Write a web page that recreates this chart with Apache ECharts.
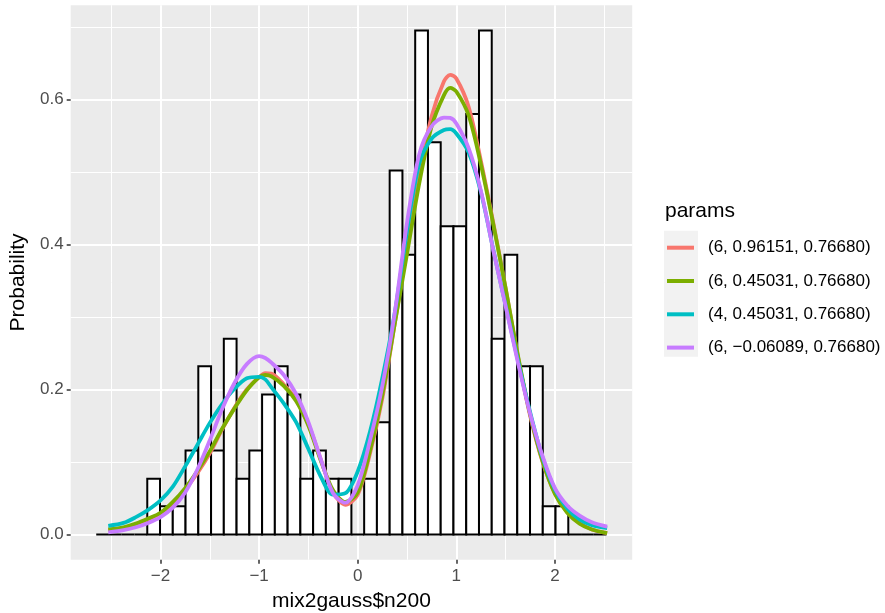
<!DOCTYPE html>
<html><head><meta charset="utf-8">
<script src="https://cdn.jsdelivr.net/npm/echarts@6/dist/echarts.min.js"></script>
<style>html,body{margin:0;padding:0;background:#fff}#chart{width:885px;height:613px}</style>
</head><body><div id="chart"></div>
<script>
// ---- data ----
const binStart = -2.652;
const binWidth = 0.1294;
const binDensity = [0,0,0,0,0.077,0.039,0.039,0.116,0.232,0.116,0.270,0.077,0.116,0.193,0.232,0.193,0.077,0.116,0.077,0.077,0,0.077,0.155,0.502,0.386,0.695,0.541,0.425,0.425,0.580,0.695,0.270,0.386,0.232,0.232,0.039,0.039,0,0,0];

const densX = [-2.53,-2.375,-2.25,-2.125,-2.0,-1.875,-1.75,-1.625,-1.5,-1.375,-1.25,-1.125,-1.0,-0.9375,-0.875,-0.75,-0.625,-0.5,-0.375,-0.25,-0.125,0,0.125,0.25,0.375,0.5,0.625,0.75,0.875,0.9375,1.0,1.125,1.25,1.375,1.5,1.625,1.75,1.875,2.0,2.125,2.25,2.375,2.53];
const redY = [0.006,0.009,0.014,0.021,0.029,0.043,0.062,0.085,0.112,0.145,0.175,0.200,0.217,0.2225,0.222,0.207,0.186,0.152,0.104,0.058,0.041,0.055,0.112,0.188,0.290,0.395,0.497,0.577,0.625,0.634,0.629,0.590,0.515,0.430,0.340,0.245,0.163,0.100,0.057,0.031,0.016,0.007,0.002];
const greenY = [0.007,0.010,0.015,0.022,0.030,0.045,0.064,0.088,0.115,0.146,0.174,0.199,0.217,0.220,0.218,0.205,0.184,0.150,0.102,0.061,0.045,0.058,0.116,0.193,0.290,0.387,0.485,0.563,0.606,0.616,0.611,0.578,0.510,0.428,0.340,0.247,0.165,0.101,0.056,0.030,0.015,0.007,0.002];
const cyanY = [0.012,0.016,0.024,0.034,0.047,0.066,0.094,0.124,0.154,0.180,0.201,0.2155,0.2175,0.214,0.203,0.181,0.155,0.118,0.080,0.055,0.057,0.087,0.142,0.216,0.305,0.418,0.512,0.546,0.558,0.559,0.553,0.527,0.472,0.393,0.316,0.240,0.168,0.106,0.062,0.036,0.021,0.013,0.009];
const purpleY = [0.003,0.006,0.010,0.016,0.024,0.037,0.058,0.090,0.130,0.173,0.209,0.235,0.246,0.2435,0.237,0.220,0.194,0.155,0.104,0.057,0.044,0.068,0.130,0.205,0.305,0.430,0.525,0.563,0.575,0.5745,0.567,0.533,0.474,0.392,0.315,0.237,0.166,0.108,0.064,0.040,0.026,0.017,0.011];

const seriesNames = ['(6, 0.96151, 0.76680)','(6, 0.45031, 0.76680)','(4, 0.45031, 0.76680)','(6, \u22120.06089, 0.76680)'];
const seriesColors = ['#F8766D','#7CAE00','#00BFC4','#C77CFF'];

const xMajor = [-2,-1,0,1,2];
const xMinor = [-2.5,-1.5,-0.5,0.5,1.5,2.5];
const xTickLabels = ['\u22122','\u22121','0','1','2'];
const yMajor = [0,0.2,0.4,0.6];
const yMinor = [0.1,0.3,0.5,0.7];
const yTickLabels = ['0.0','0.2','0.4','0.6'];

// ---- chart ----
const FONT = "'Liberation Sans', Arial, sans-serif";
const xMin = -2.911, xMax = 2.784, yMin = -0.0347, yMax = 0.730;
const chart = echarts.init(document.getElementById('chart'), null, {renderer:'canvas'});

function lbl(list, labels){ return v => { const i = list.findIndex(t => Math.abs(t - v) < 1e-9); return i >= 0 ? labels[i] : ''; }; }

const histData = binDensity.map((d, i) => [binStart + i*binWidth, binStart + (i+1)*binWidth, d]);
const lineSeries = [redY, greenY, cyanY, purpleY].map((ys, k) => ({
  type:'line', name: seriesNames[k], xAxisIndex:0, yAxisIndex:0,
  data: densX.map((x, i) => [x, ys[i]]),
  showSymbol:false, smooth:0.3, z: 10 + k,
  lineStyle:{color: seriesColors[k], width:3.8}, itemStyle:{color: seriesColors[k]},
  emphasis:{disabled:true}, animation:false
}));

const option = {
  animation:false,
  grid:{left:70.7, top:5.2, right:885-632.2, bottom:613-559.7, show:true, backgroundColor:'#EBEBEB', borderWidth:0,
        containLabel:false, outerBoundsMode:'none'},
  xAxis:[{
    type:'value', min:xMin, max:xMax, position:'bottom',
    axisLine:{show:false, onZero:false},
    axisTick:{show:true, customValues:xMajor, length:4, lineStyle:{color:'#333333', width:1.5}},
    axisLabel:{customValues:xMajor, formatter:lbl(xMajor, xTickLabels), color:'#4D4D4D', fontSize:17, fontFamily:FONT, margin:8},
    splitLine:{show:true, lineStyle:{color:'#FFFFFF', width:2}},
    name:'mix2gauss$n200', nameLocation:'middle', nameGap:31,
    nameTextStyle:{color:'#000', fontSize:21, fontFamily:FONT}
  },{
    type:'value', min:xMin, max:xMax, position:'bottom',
    axisLine:{show:false, onZero:false}, axisLabel:{show:false},
    axisTick:{show:false, customValues:xMinor},
    splitLine:{show:true, lineStyle:{color:'#FFFFFF', width:1}}
  }],
  yAxis:[{
    type:'value', min:yMin, max:yMax, position:'left',
    axisLine:{show:false, onZero:false},
    axisTick:{show:true, customValues:yMajor, length:4, lineStyle:{color:'#333333', width:1.5}},
    axisLabel:{customValues:yMajor, formatter:lbl(yMajor, yTickLabels), color:'#4D4D4D', fontSize:17, fontFamily:FONT, margin:7},
    splitLine:{show:true, lineStyle:{color:'#FFFFFF', width:2}},
    name:'Probability', nameLocation:'middle', nameGap:40, nameRotate:90,
    nameTextStyle:{color:'#000', fontSize:21, fontFamily:FONT}
  },{
    type:'value', min:yMin, max:yMax, position:'left',
    axisLine:{show:false, onZero:false}, axisLabel:{show:false},
    axisTick:{show:false, customValues:yMinor},
    splitLine:{show:true, lineStyle:{color:'#FFFFFF', width:1}}
  }],
  legend:{
    data: seriesNames, orient:'vertical', left:667, top:237.7, padding:0,
    icon:'rect', itemWidth:27, itemHeight:4, itemGap:13.3,
    textStyle:{color:'#000', fontSize:17, fontFamily:FONT, lineHeight:20, padding:[0,0,0,9]},
    selectedMode:false
  },
  graphic:[
    {type:'rect', left:664, top:230.7, shape:{width:34, height:126}, style:{fill:'#F2F2F2'}, z:-1},
    {type:'text', left:665, top:201, style:{text:'params', fill:'#000', font:"21px 'Liberation Sans', Arial, sans-serif"}}
  ],
  series:[{
    type:'custom', xAxisIndex:0, yAxisIndex:0, z:5,
    data: histData, encode:{x:[0,1], y:2},
    renderItem:(params, api) => {
      const p0 = api.coord([api.value(0), api.value(2)]);
      const p1 = api.coord([api.value(1), 0]);
      return {type:'rect', shape:{x:p0[0], y:p0[1], width:p1[0]-p0[0], height:p1[1]-p0[1]},
              style:{fill:'#FFFFFF', stroke:'#000000', lineWidth:2}};
    },
    animation:false
  }].concat(lineSeries)
};
chart.setOption(option);
</script></body></html>
